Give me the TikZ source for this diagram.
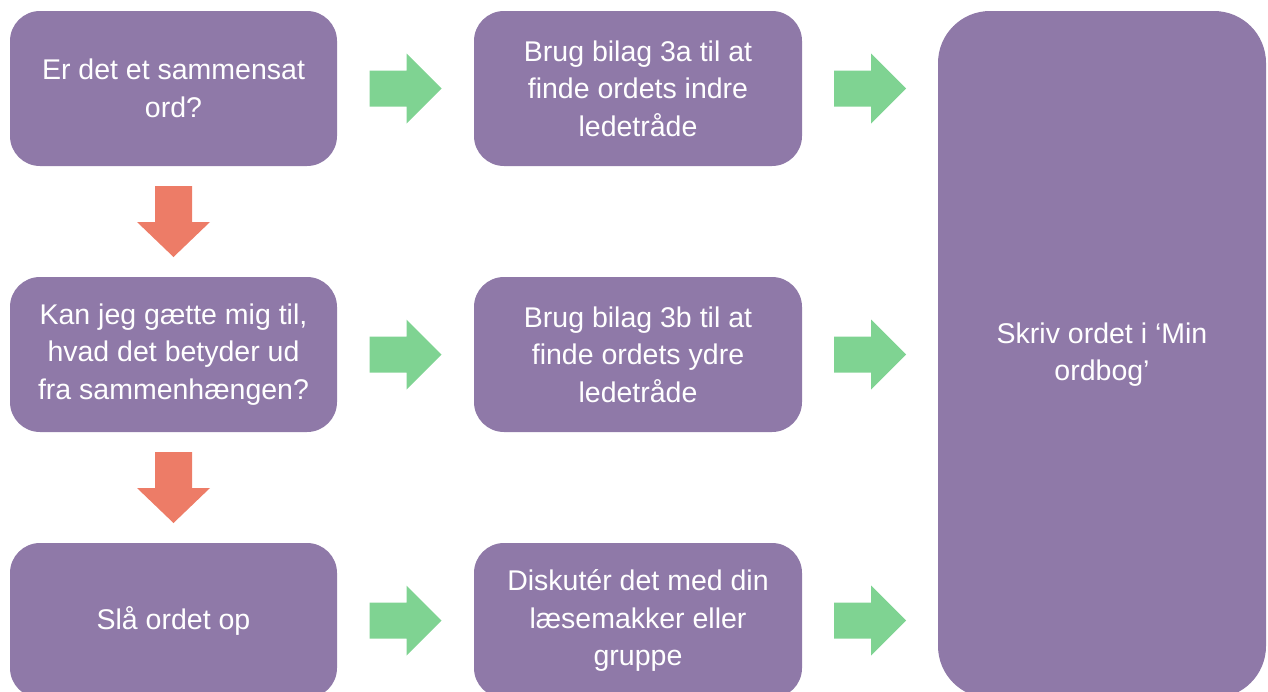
\documentclass[tikz,border=0pt]{standalone}
\usepackage{fontspec}
\setmainfont{Liberation Sans}
\usetikzlibrary{calc}
\definecolor{boxpurple}{RGB}{143,121,168}
\definecolor{arrgreen}{RGB}{127,211,146}
\definecolor{arrred}{RGB}{237,124,103}
\newcommand\rightblock[1]{\fill[arrgreen] ($#1+(-36,-18)$) -- ($#1+(1,-18)$) -- ($#1+(1,-35)$) -- ($#1+(36,0)$) -- ($#1+(1,35)$) -- ($#1+(1,18)$) -- ($#1+(-36,18)$) -- cycle;}
\newcommand\downblock[1]{\fill[arrred] ($#1+(-18.5,-35.5)$) -- ($#1+(18.5,-35.5)$) -- ($#1+(18.5,0.5)$) -- ($#1+(36.5,0.5)$) -- ($#1+(0,35.5)$) -- ($#1+(-36.5,0.5)$) -- ($#1+(-18.5,0.5)$) -- cycle;}
\begin{document}
\begin{tikzpicture}[x=1pt,y=-1pt,
  pbox/.style={fill=boxpurple, rounded corners=30pt, inner sep=0pt,
    minimum width=327pt, minimum height=155pt, text=white, align=center,
    font=\fontsize{28.5}{37.5}\selectfont},
  tallbox/.style={pbox, rounded corners=52pt, minimum width=328pt, minimum height=687pt}]
\useasboundingbox (0,0) rectangle (1268,691);
\clip (0,0) rectangle (1268,691);
\node[pbox] (l1) at (173.5,88.5) {Er det et sammensat\\ord?};
\node[pbox] (l2) at (173.5,354.5) {Kan jeg gætte mig til,\\hvad det betyder ud\\fra sammenhængen?};
\node[pbox] (l3) at (173.5,620.5) {Slå ordet op};
\node[pbox, minimum width=328pt] (m1) at (638,88.5) {Brug bilag 3a til at\\finde ordets indre\\ledetråde};
\node[pbox, minimum width=328pt] (m2) at (638,354.5) {Brug bilag 3b til at\\finde ordets ydre\\ledetråde};
\node[pbox, minimum width=328pt] (m3) at (638,620.5) {Diskutér det med din\\læsemakker eller\\gruppe};
\node[tallbox] (R) at (1102,354.5) {Skriv ordet i ‘Min \\ordbog’};
\rightblock{($(l1.east)!0.5!(m1.west)$)}
\rightblock{($(l2.east)!0.5!(m2.west)$)}
\rightblock{($(l3.east)!0.5!(m3.west)$)}
\rightblock{($(m1.east)!0.5!(m1.east -| R.west)$)}
\rightblock{($(m2.east)!0.5!(m2.east -| R.west)$)}
\rightblock{($(m3.east)!0.5!(m3.east -| R.west)$)}
\downblock{($(l1.south)!0.5!(l2.north)$)}
\downblock{($(l2.south)!0.5!(l3.north)$)}
\end{tikzpicture}
\end{document}
